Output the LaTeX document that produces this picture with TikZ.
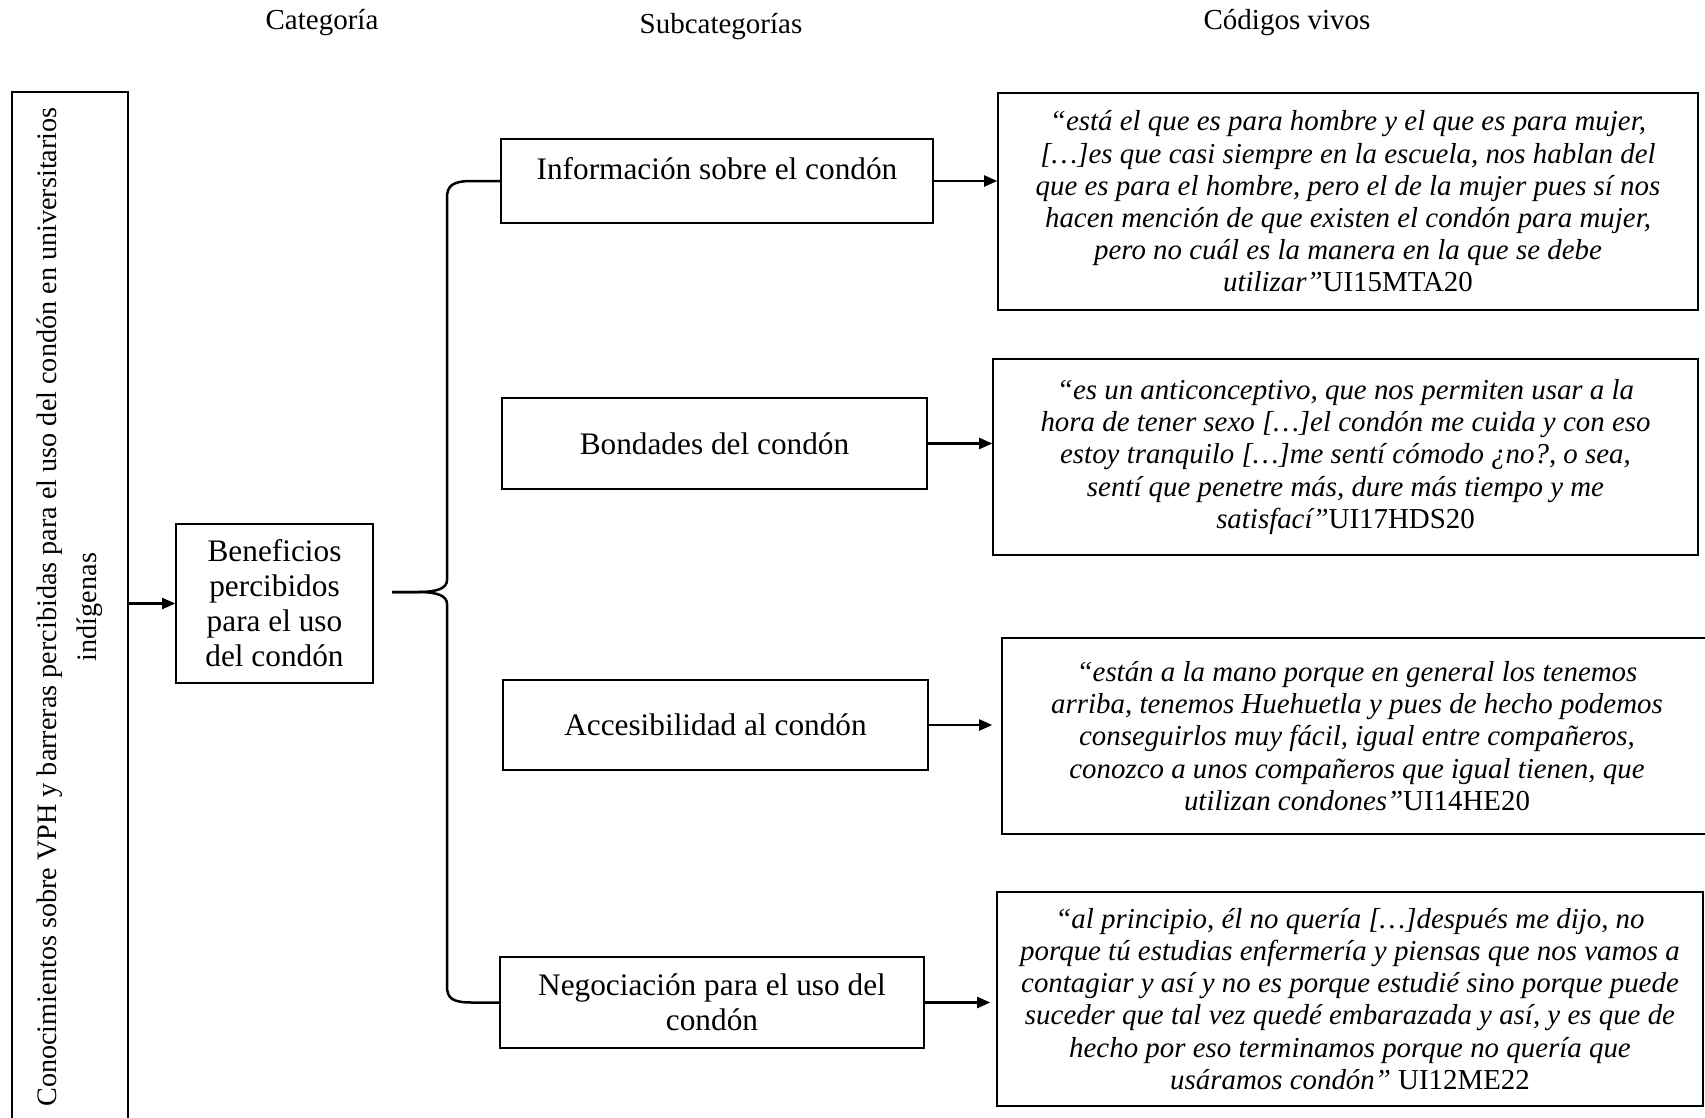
\documentclass[tikz,border=0pt]{standalone}
\usepackage{fontspec}
\setmainfont{Liberation Serif}
\usetikzlibrary{arrows.meta,calc}

\begin{document}
\begin{tikzpicture}[x=1pt,y=-1pt,
  box/.style={draw, line width=1.6pt, inner sep=0pt, align=center, anchor=center},
  hdr/.style={font=\fontsize{29}{34}\selectfont},
  main/.style={font=\fontsize{31.3}{35}\selectfont},
  sidetext/.style={font=\fontsize{28.2}{40}\selectfont},
  quote/.style={box, font=\fontsize{28.9}{32.2}\selectfont\itshape},
  link/.style={line width=2.2pt, -{Triangle[length=13pt,width=11pt]}},
  bracepath/.style={line width=2.5pt}
]
\useasboundingbox (0,0) rectangle (1705,1117);

% column headings
\node[hdr] (hcat) at (322,23) {Categoría};
\node[hdr] (hsub) at (721,27) {Subcategorías};
\node[hdr] (hcod) at (1287,23) {Códigos vivos};

% category (vertical box) and main theme
\node[box, sidetext, rotate=90, minimum width=1030, minimum height=116] (cat) at (70,607)
  {Conocimientos sobre VPH y barreras percibidas para el uso del condón en universitarios\\indígenas};
\node[box, main, minimum width=197, minimum height=159] (ben) at (274.5,603.5)
  {Beneficios\\percibidos\\para el uso\\del condón};

% subcategories
\node[box, main, minimum width=432, minimum height=84] (s1) at (717,181)
  {Información sobre el condón\\[-10pt]\mbox{}};
\node[box, main, minimum width=425, minimum height=91] (s2) at (714.5,443.5)
  {Bondades del condón};
\node[box, main, minimum width=425, minimum height=90] (s3) at (715.5,725)
  {Accesibilidad al condón};
\node[box, main, minimum width=424, minimum height=91] (s4) at (712,1002.5)
  {Negociación para el uso del\\condón};

% live codes
\node[quote, minimum width=700, minimum height=217] (q1) at (1348,201.5)
  {“está el que es para hombre y el que es para mujer,\\{[}…]es que casi siempre en la escuela, nos hablan del\\que es para el hombre, pero el de la mujer pues sí nos\\hacen mención de que existen el condón para mujer,\\pero no cuál es la manera en la que se debe\\utilizar”\upshape UI15MTA20};
\node[quote, minimum width=705, minimum height=196] (q2) at (1345.5,457)
  {“es un anticonceptivo, que nos permiten usar a la\\hora de tener sexo […]el condón me cuida y con eso\\estoy tranquilo […]me sentí cómodo ¿no?, o sea,\\sentí que penetre más, dure más tiempo y me\\satisfací”\upshape UI17HDS20};
\node[quote, minimum width=710, minimum height=196] (q3) at (1357,736)
  {“están a la mano porque en general los tenemos\\arriba, tenemos Huehuetla y pues de hecho podemos\\conseguirlos muy fácil, igual entre compañeros,\\conozco a unos compañeros que igual tienen, que\\utilizan condones”\upshape UI14HE20};
\node[quote, minimum width=706, minimum height=214] (q4) at (1350,999)
  {“al principio, él no quería […]después me dijo, no\\porque tú estudias enfermería y piensas que nos vamos a\\contagiar y así y no es porque estudié sino porque puede\\suceder que tal vez quedé embarazada y así, y es que de\\hecho por eso terminamos porque no quería que\\usáramos condón” \upshape UI12ME22};

% connectors
\draw[link] (cat.south |- ben.west) -- (ben.west);
\draw[link] (s1.east) -- (s1.east -| q1.west);
\draw[link] (s2.east) -- (s2.east -| q2.west);
\draw[link, shorten >=9pt] (s3.east) -- (s3.east -| q3.west);
\draw[link, shorten >=6pt] (s4.east) -- (s4.east -| q4.west);

% curly brace grouping the subcategories
\coordinate (tip) at (392,592);
\draw[bracepath] (s1.west) -- (472,181) .. controls (452,181) and (447,186) .. (447,198)
  -- (447,580) .. controls (447,588) and (438,592) .. (418,592) -- (tip);
\draw[bracepath] (tip) -- (418,592) .. controls (438,592) and (447,596) .. (447,604)
  -- (447,986) .. controls (447,998) and (452,1002.5) .. (472,1002.5) -- (s4.west);
\end{tikzpicture}
\end{document}
